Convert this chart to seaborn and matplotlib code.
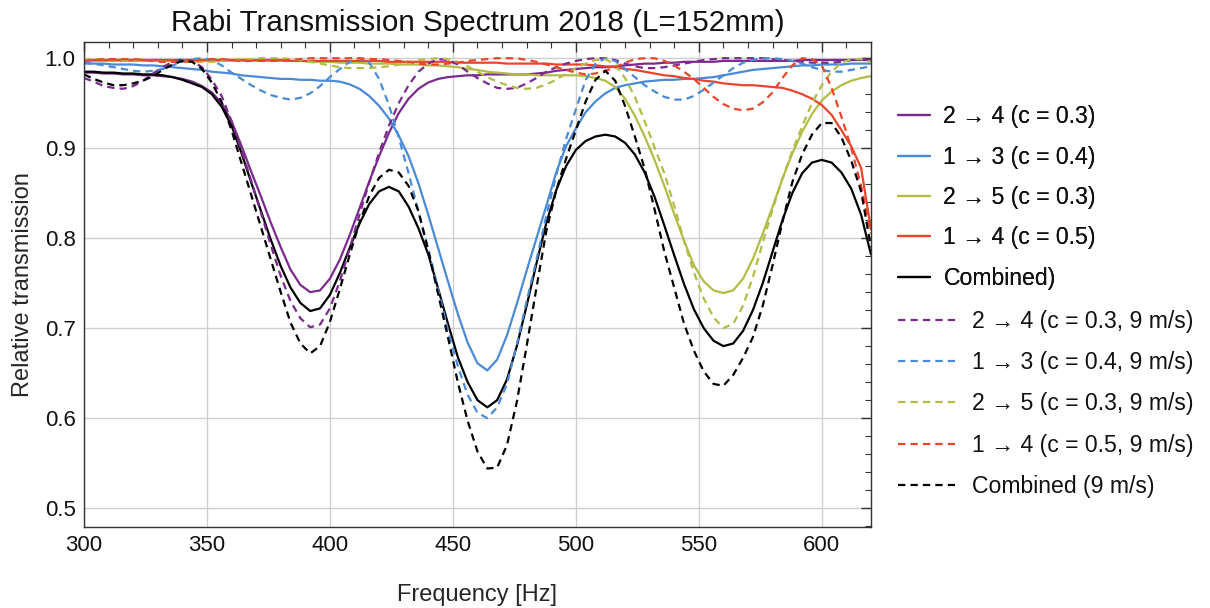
import numpy as np
import matplotlib
matplotlib.use("Agg")
import matplotlib.pyplot as plt
import seaborn as sns
from matplotlib.ticker import MultipleLocator

# ---------------- data ----------------
freq = np.arange(300, 621, 4)  # Hz

p24 = [0.984, 0.984, 0.983, 0.983, 0.982, 0.982, 0.981, 0.981, 0.980, 0.979,
       0.977, 0.974, 0.969, 0.962, 0.950, 0.930, 0.903, 0.874, 0.846, 0.817,
       0.790, 0.765, 0.748, 0.740, 0.742, 0.755, 0.776, 0.803, 0.833, 0.863,
       0.891, 0.917, 0.939, 0.955, 0.966, 0.973, 0.977, 0.979, 0.980, 0.981,
       0.981, 0.982, 0.982, 0.982, 0.982, 0.982, 0.983, 0.984, 0.986, 0.987,
       0.988, 0.989, 0.990, 0.990, 0.991, 0.992, 0.993, 0.994, 0.994, 0.995,
       0.995, 0.996, 0.996, 0.996, 0.996, 0.997, 0.997, 0.997, 0.997, 0.997,
       0.997, 0.997, 0.997, 0.998, 0.998, 0.998, 0.998, 0.998, 0.998, 0.998,
       0.998]
p13 = [0.994, 0.994, 0.994, 0.993, 0.993, 0.993, 0.992, 0.992, 0.991, 0.990,
       0.989, 0.988, 0.987, 0.985, 0.984, 0.983, 0.981, 0.980, 0.979, 0.978,
       0.977, 0.977, 0.976, 0.976, 0.975, 0.975, 0.974, 0.971, 0.966, 0.958,
       0.947, 0.933, 0.914, 0.891, 0.861, 0.826, 0.789, 0.752, 0.716, 0.684,
       0.661, 0.653, 0.665, 0.692, 0.727, 0.764, 0.800, 0.836, 0.873, 0.902,
       0.922, 0.940, 0.952, 0.961, 0.967, 0.970, 0.972, 0.974, 0.975, 0.976,
       0.976, 0.977, 0.977, 0.978, 0.979, 0.981, 0.983, 0.985, 0.987, 0.988,
       0.989, 0.990, 0.991, 0.992, 0.992, 0.993, 0.993, 0.993, 0.994, 0.994,
       0.994]
p25 = [0.997, 0.997, 0.997, 0.997, 0.997, 0.997, 0.997, 0.997, 0.997, 0.997,
       0.997, 0.997, 0.997, 0.997, 0.997, 0.997, 0.997, 0.997, 0.997, 0.997,
       0.997, 0.997, 0.997, 0.996, 0.996, 0.996, 0.995, 0.995, 0.995, 0.994,
       0.994, 0.994, 0.993, 0.993, 0.993, 0.992, 0.992, 0.991, 0.990, 0.988,
       0.987, 0.985, 0.984, 0.983, 0.982, 0.982, 0.981, 0.981, 0.981, 0.981,
       0.981, 0.980, 0.978, 0.975, 0.968, 0.955, 0.936, 0.913, 0.887, 0.858,
       0.827, 0.797, 0.770, 0.752, 0.742, 0.739, 0.742, 0.755, 0.777, 0.805,
       0.835, 0.866, 0.894, 0.918, 0.938, 0.953, 0.963, 0.970, 0.975, 0.978,
       0.980]
p14 = [0.998, 0.998, 0.998, 0.998, 0.998, 0.998, 0.998, 0.998, 0.998, 0.998,
       0.998, 0.998, 0.998, 0.998, 0.998, 0.998, 0.998, 0.998, 0.998, 0.998,
       0.998, 0.997, 0.997, 0.997, 0.997, 0.997, 0.997, 0.997, 0.997, 0.997,
       0.997, 0.996, 0.996, 0.996, 0.996, 0.996, 0.996, 0.996, 0.995, 0.995,
       0.995, 0.995, 0.995, 0.994, 0.994, 0.994, 0.994, 0.994, 0.993, 0.993,
       0.993, 0.993, 0.992, 0.991, 0.990, 0.988, 0.987, 0.985, 0.983, 0.981,
       0.980, 0.978, 0.977, 0.975, 0.974, 0.972, 0.971, 0.970, 0.970, 0.969,
       0.968, 0.967, 0.964, 0.960, 0.955, 0.948, 0.937, 0.920, 0.902, 0.878,
       0.810]
comb = [0.985, 0.985, 0.984, 0.984, 0.983, 0.983, 0.982, 0.982, 0.981, 0.979,
        0.976, 0.972, 0.968, 0.960, 0.946, 0.925, 0.895, 0.862, 0.830, 0.798,
        0.769, 0.745, 0.728, 0.719, 0.722, 0.737, 0.761, 0.789, 0.816, 0.838,
        0.852, 0.857, 0.852, 0.835, 0.811, 0.782, 0.744, 0.705, 0.668, 0.640,
        0.620, 0.612, 0.620, 0.643, 0.680, 0.725, 0.772, 0.817, 0.853, 0.880,
        0.898, 0.908, 0.913, 0.915, 0.913, 0.906, 0.893, 0.873, 0.846, 0.814,
        0.781, 0.749, 0.721, 0.700, 0.686, 0.680, 0.683, 0.697, 0.720, 0.750,
        0.785, 0.820, 0.850, 0.872, 0.884, 0.887, 0.884, 0.873, 0.855, 0.826,
        0.782]

d24 = [0.978, 0.974, 0.969, 0.967, 0.966, 0.969, 0.975, 0.983, 0.990, 0.996,
       0.999, 0.997, 0.990, 0.976, 0.958, 0.930, 0.898, 0.864, 0.828, 0.792,
       0.758, 0.730, 0.711, 0.701, 0.704, 0.722, 0.752, 0.788, 0.826, 0.862,
       0.895, 0.925, 0.950, 0.970, 0.985, 0.994, 0.999, 0.998, 0.993, 0.985,
       0.978, 0.972, 0.967, 0.966, 0.967, 0.972, 0.978, 0.985, 0.990, 0.994,
       0.997, 0.999, 1.000, 1.000, 0.998, 0.994, 0.991, 0.989, 0.989, 0.990,
       0.992, 0.994, 0.996, 0.998, 0.999, 1.000, 1.000, 1.000, 1.000, 1.000,
       0.999, 0.998, 0.997, 0.996, 0.995, 0.995, 0.995, 0.996, 0.998, 0.999,
       1.000]
d13 = [0.995, 0.994, 0.992, 0.990, 0.988, 0.986, 0.985, 0.986, 0.988, 0.992,
       0.996, 0.999, 1.000, 0.998, 0.992, 0.984, 0.977, 0.970, 0.964, 0.959,
       0.956, 0.954, 0.956, 0.961, 0.969, 0.979, 0.988, 0.996, 1.000, 0.995,
       0.977, 0.948, 0.912, 0.872, 0.830, 0.788, 0.743, 0.698, 0.658, 0.626,
       0.606, 0.600, 0.612, 0.638, 0.682, 0.730, 0.776, 0.825, 0.870, 0.910,
       0.943, 0.976, 0.994, 1.000, 0.997, 0.988, 0.979, 0.970, 0.963, 0.957,
       0.954, 0.954, 0.958, 0.965, 0.973, 0.981, 0.989, 0.995, 0.998, 1.000,
       1.000, 0.999, 0.997, 0.994, 0.990, 0.987, 0.985, 0.985, 0.987, 0.989,
       0.991]
d25 = [0.998, 0.999, 0.999, 0.999, 0.998, 0.998, 0.997, 0.997, 0.996, 0.996,
       0.996, 0.996, 0.996, 0.996, 0.997, 0.998, 0.999, 0.999, 1.000, 1.000,
       1.000, 0.999, 0.998, 0.996, 0.994, 0.992, 0.990, 0.989, 0.989, 0.989,
       0.990, 0.991, 0.993, 0.995, 0.998, 0.999, 1.000, 0.999, 0.996, 0.991,
       0.985, 0.979, 0.974, 0.970, 0.967, 0.966, 0.967, 0.971, 0.976, 0.983,
       0.989, 0.994, 0.998, 0.999, 0.993, 0.978, 0.957, 0.930, 0.901, 0.872,
       0.836, 0.797, 0.762, 0.733, 0.712, 0.700, 0.705, 0.725, 0.757, 0.795,
       0.832, 0.866, 0.897, 0.924, 0.950, 0.970, 0.985, 0.995, 0.999, 0.999,
       0.996]
d14 = [0.997, 0.998, 0.999, 0.999, 0.999, 0.999, 0.998, 0.997, 0.996, 0.996,
       0.996, 0.997, 0.998, 0.999, 0.999, 0.998, 0.997, 0.997, 0.997, 0.997,
       0.997, 0.998, 0.999, 1.000, 1.000, 1.000, 1.000, 1.000, 1.000, 0.999,
       0.999, 0.998, 0.997, 0.996, 0.994, 0.993, 0.993, 0.994, 0.995, 0.997,
       0.998, 0.999, 1.000, 1.000, 1.000, 0.998, 0.996, 0.993, 0.990, 0.987,
       0.984, 0.982, 0.983, 0.986, 0.990, 0.995, 0.999, 1.000, 1.000, 0.997,
       0.992, 0.985, 0.977, 0.967, 0.957, 0.949, 0.944, 0.942, 0.944, 0.951,
       0.962, 0.978, 0.992, 1.000, 0.999, 0.992, 0.967, 0.935, 0.900, 0.858,
       0.805]
dcomb = [0.982, 0.977, 0.973, 0.970, 0.970, 0.972, 0.975, 0.980, 0.987, 0.993,
         0.997, 0.996, 0.988, 0.973, 0.951, 0.920, 0.884, 0.848, 0.812, 0.776,
         0.740, 0.706, 0.683, 0.672, 0.680, 0.707, 0.743, 0.781, 0.817, 0.847,
         0.867, 0.876, 0.873, 0.858, 0.830, 0.786, 0.738, 0.690, 0.640, 0.597,
         0.563, 0.544, 0.545, 0.570, 0.618, 0.680, 0.745, 0.808, 0.853, 0.888,
         0.920, 0.952, 0.976, 0.986, 0.975, 0.947, 0.913, 0.877, 0.832, 0.785,
         0.745, 0.705, 0.675, 0.652, 0.638, 0.636, 0.648, 0.667, 0.690, 0.725,
         0.770, 0.818, 0.862, 0.893, 0.915, 0.928, 0.928, 0.912, 0.886, 0.852,
         0.790]

labels_solid = ["2 \u2192 4 (c = 0.3)", "1 \u2192 3 (c = 0.4)", "2 \u2192 5 (c = 0.3)",
                "1 \u2192 4 (c = 0.5)", "Combined)"]
labels_dashed = ["2 \u2192 4 (c = 0.3, 9 m/s)", "1 \u2192 3 (c = 0.4, 9 m/s)",
                 "2 \u2192 5 (c = 0.3, 9 m/s)", "1 \u2192 4 (c = 0.5, 9 m/s)",
                 "Combined (9 m/s)"]
title = "Rabi Transmission Spectrum 2018 (L=152mm)"

colors = ["#7B2A8E", "#4A8AD6", "#B3BD45", "#E8462C", "#000000"]

# ---------------- style ----------------
sns.set_theme(style="white")
plt.rcParams['font.family'] = ['Liberation Sans', 'DejaVu Sans']
plt.rcParams['text.color'] = '#111111'

fig = plt.figure(figsize=(12.1, 6.08), dpi=100)
ax = fig.add_axes([0.0694, 0.1332, 0.6504, 0.7977])

solid_series = [p24, p13, p25, p14, comb]
dashed_series = [d24, d13, d25, d14, dcomb]
lw = 1.6
dash = (0, (3.3, 2.3))

solid_handles = []
for vals, col in zip(solid_series, colors):
    sns.lineplot(x=freq, y=vals, ax=ax, color=col, lw=lw, linestyle='-',
                 legend=False, errorbar=None)
    solid_handles.append(ax.lines[-1])
dashed_handles = []
for vals, col in zip(dashed_series, colors):
    sns.lineplot(x=freq, y=vals, ax=ax, color=col, lw=lw, linestyle=dash,
                 legend=False, errorbar=None)
    dashed_handles.append(ax.lines[-1])

ax.set_xlim(300, 620)
ax.set_ylim(0.479, 1.018)
ax.xaxis.set_major_locator(MultipleLocator(50))
ax.xaxis.set_minor_locator(MultipleLocator(10))
ax.yaxis.set_major_locator(MultipleLocator(0.1))
ax.yaxis.set_minor_locator(MultipleLocator(0.02))
ax.yaxis.set_major_formatter(matplotlib.ticker.FormatStrFormatter('%.1f'))
ax.grid(True, which='major', color='#cfcfcf', lw=1.0)
ax.tick_params(which='both', direction='in', top=True, right=True,
               color='#333333', labelcolor='#111111', labelsize=16, pad=6)
ax.tick_params(which='major', length=7, width=1)
ax.tick_params(which='minor', length=4, width=0.8)
for s in ax.spines.values():
    s.set_color('#333333')
    s.set_linewidth(1.0)

ax.set_xlabel("Frequency [Hz]", fontsize=17, labelpad=20)
ax.set_ylabel("Relative transmission", fontsize=17, labelpad=8)
ax.set_title(title, fontsize=21.3, pad=8)

leg1 = fig.legend(handles=solid_handles, labels=labels_solid, loc='upper left',
                  bbox_to_anchor=(0.742, 0.827), frameon=False, fontsize=16.6,
                  handlelength=1.4, handletextpad=0.58, labelspacing=0.755,
                  borderpad=0, borderaxespad=0)
fig.add_artist(leg1)
leg2 = fig.legend(handles=dashed_handles, labels=labels_dashed, loc='upper left',
                  bbox_to_anchor=(0.742, 0.4905), frameon=False, fontsize=16.6,
                  handlelength=2.5, handletextpad=0.7, labelspacing=0.795,
                  borderpad=0, borderaxespad=0)

fig.savefig("out.png", dpi=100)
